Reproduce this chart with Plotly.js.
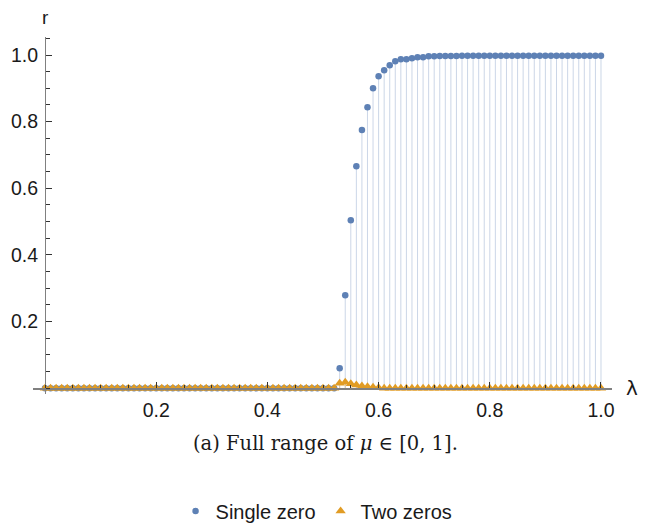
<!DOCTYPE html>
<html>
<head>
<meta charset="utf-8">
<script src="https://cdn.plot.ly/plotly-3.0.1.min.js"></script>
<style>html,body{margin:0;padding:0;background:#fff;}#chart{width:650px;height:523px;}</style>
</head>
<body>
<div id="chart"></div>
<script>
// lambda values 0.00 .. 1.00 step 0.01
const lambdaVals = [0.00,0.01,0.02,0.03,0.04,0.05,0.06,0.07,0.08,0.09,0.10,0.11,0.12,0.13,0.14,0.15,0.16,0.17,0.18,0.19,0.20,0.21,0.22,0.23,0.24,0.25,0.26,0.27,0.28,0.29,0.30,0.31,0.32,0.33,0.34,0.35,0.36,0.37,0.38,0.39,0.40,0.41,0.42,0.43,0.44,0.45,0.46,0.47,0.48,0.49,0.50,0.51,0.52,0.53,0.54,0.55,0.56,0.57,0.58,0.59,0.60,0.61,0.62,0.63,0.64,0.65,0.66,0.67,0.68,0.69,0.70,0.71,0.72,0.73,0.74,0.75,0.76,0.77,0.78,0.79,0.80,0.81,0.82,0.83,0.84,0.85,0.86,0.87,0.88,0.89,0.90,0.91,0.92,0.93,0.94,0.95,0.96,0.97,0.98,0.99,1.00];
// Single zero fraction r
const singleZero = [0,0,0,0,0,0,0,0,0,0,0,0,0,0,0,0,0,0,0,0,0,0,0,0,0,0,0,0,0,0,0,0,0,0,0,0,0,0,0,0,0,0,0,0,0,0,0,0,0,0,0,0,0,
  0.060,0.279,0.504,0.666,0.775,0.843,0.900,0.936,0.954,0.969,0.981,0.987,0.987,0.990,0.993,0.993,0.996,0.996,0.997,0.997,0.997,0.997,0.998,0.998,0.998,0.998,0.998,0.998,0.998,0.998,0.998,0.998,0.998,0.998,0.998,0.998,0.998,0.998,0.998,0.998,0.998,0.998,0.998,0.998,0.998,0.998,0.998,0.998];
// Two zeros fraction r
const twoZeros = [0,0,0,0,0,0,0,0,0,0,0,0,0,0,0,0,0,0,0,0,0,0,0,0,0,0,0,0,0,0,0,0,0,0,0,0,0,0,0,0,0,0,0,0,0,0,0,0,0,0,0,0,0,
  0.015,0.018,0.014,0.010,0.007,0.005,0.003,0.002,0,0,0,0,0,0,0,0,0,0,0,0,0,0,0,0,0,0,0,0,0,0,0,0,0,0,0,0,0,0,0,0,0,0,0,0,0,0,0,0,0,0,0];
const xTickVals = [0.2,0.4,0.6,0.8,1.0];
const xTickText = ['0.2','0.4','0.6','0.8','1.0'];
const yTickVals = [0.2,0.4,0.6,0.8,1.0];
const yTickText = ['0.2','0.4','0.6','0.8','1.0'];
const seriesNames = ['Single zero','Two zeros'];

const blue = '#5E81B5', orange = '#E19C24';
const xr = [-0.0216, 1.0198];
const yr = [-0.0171, 1.054];
const xPos = -xr[0]/(xr[1]-xr[0]);
const yPos = -yr[0]/(yr[1]-yr[0]);
const zeros = lambdaVals.map(()=>0);

const traces = [
  {x: lambdaVals, y: singleZero, type:'scatter', mode:'markers', name: seriesNames[0],
   marker:{color: blue, size:6.5, symbol:'circle'},
   error_y:{type:'data', symmetric:false, array: zeros, arrayminus: singleZero, width:0, thickness:1, color:'rgba(94,129,181,0.32)'},
   cliponaxis:false},
  {x: lambdaVals, y: twoZeros, type:'scatter', mode:'markers', name: seriesNames[1],
   marker:{color: orange, size:9, symbol:'triangle-up'},
   error_y:{type:'data', symmetric:false, array: zeros, arrayminus: twoZeros, width:0, thickness:1, color:'rgba(225,156,36,0.35)'},
   cliponaxis:false}
];

const tickFont = {family:'Liberation Sans, Arial, sans-serif', size:19.5, color:'#1a1a1a'};
const layout = {
  width:650, height:523,
  margin:{l:33, r:38, t:37, b:129},
  paper_bgcolor:'#fff', plot_bgcolor:'#fff',
  showlegend:true,
  legend:{orientation:'h', x:0.487, xref:'container', xanchor:'center', y:0.023, yref:'container', yanchor:'middle',
          font:{family:'Liberation Sans, Arial, sans-serif', size:20, color:'#1a1a1a'},
          itemwidth:30, tracegroupgap:0},
  xaxis:{range:xr, anchor:'free', position:yPos, showgrid:false, zeroline:false,
         showline:true, linecolor:'#808080', linewidth:1.3,
         tickmode:'array', tickvals:xTickVals, ticktext:xTickText,
         ticks:'inside', ticklen:6, tickwidth:1, tickcolor:'#333',
         minor:{dtick:0.05, tick0:0, ticks:'inside', ticklen:3.5, tickwidth:1, tickcolor:'#333', showgrid:false},
         tickfont:tickFont, ticklabelstandoff:4},
  yaxis:{range:yr, anchor:'free', position:xPos, showgrid:false, zeroline:false,
         showline:true, linecolor:'#808080', linewidth:1.3,
         tickmode:'array', tickvals:yTickVals, ticktext:yTickText,
         ticks:'inside', ticklen:6, tickwidth:1, tickcolor:'#333',
         minor:{dtick:0.05, tick0:0, ticks:'inside', ticklen:3.5, tickwidth:1, tickcolor:'#333', showgrid:false},
         tickfont:tickFont, ticklabelstandoff:3},
  annotations:[
    {text:'r', xref:'paper', yref:'paper', x:xPos, y:1, yshift:20, xanchor:'center', yanchor:'middle', showarrow:false,
     font:{family:'Liberation Sans, Arial, sans-serif', size:19, color:'#1a1a1a'}},
    {text:'λ', xref:'paper', yref:'paper', x:1, y:yPos, xshift:20, xanchor:'center', yanchor:'middle', showarrow:false,
     font:{family:'DejaVu Sans, sans-serif', size:20, color:'#1a1a1a'}},
    {text:'(a) Full range of <i>μ</i> ∈ [0, 1].', xref:'paper', yref:'paper', x:0.505, y:0, yshift:-49, xanchor:'center', yanchor:'middle', showarrow:false,
     font:{family:'DejaVu Serif, serif', size:19.5, color:'#1a1a1a'}}
  ]
};
Plotly.newPlot('chart', traces, layout, {displayModeBar:false, staticPlot:true});
</script>
</body>
</html>
